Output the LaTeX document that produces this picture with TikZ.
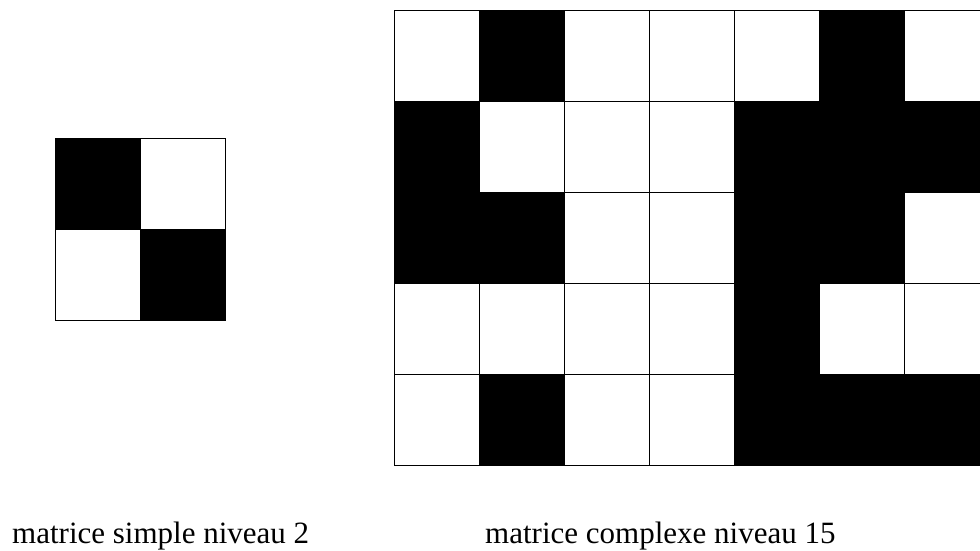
\documentclass[tikz,border=0pt]{standalone}
\usepackage{fontspec}
\setmainfont{Liberation Serif}
\usepackage{tikz}
\usetikzlibrary{positioning}
\tikzstyle{cell}    = [draw=black, line width=1pt]
\tikzstyle{caption} = [anchor=base west, inner sep=0pt, font=\fontsize{31}{37}\selectfont]

\begin{document}
\begin{tikzpicture}[x=1pt, y=-1pt]

    \useasboundingbox (0,0) rectangle (980,550);
    \clip (0,0) rectangle (980,550);

    % ===============================
    % 1. SIMPLE MATRIX (2 x 2)
    % ===============================
    \foreach \row [count=\r from 0] in {{1,0},{0,1}} {
        \foreach \v [count=\c from 0] in \row {
            \ifnum\v=1 \def\shade{black}\else \def\shade{white}\fi
            \filldraw[cell, fill=\shade] (55+85*\c, 138+91*\r) rectangle ++(85,91);
        }
    }

    % ===============================
    % 2. COMPLEX MATRIX (5 x 7)
    % ===============================
    \foreach \row [count=\r from 0] in {
        {0,1,0,0,0,1,0},
        {1,0,0,0,1,1,1},
        {1,1,0,0,1,1,0},
        {0,0,0,0,1,0,0},
        {0,1,0,0,1,1,1}} {
        \foreach \v [count=\c from 0] in \row {
            \ifnum\v=1 \def\shade{black}\else \def\shade{white}\fi
            \filldraw[cell, fill=\shade] (394+85*\c, 10+91*\r) rectangle ++(85,91);
        }
    }

    % ===============================
    % 3. CAPTIONS
    % ===============================
    \node[caption] (simplelabel)  at (12,543)  {matrice simple niveau 2};
    \node[caption] (complexlabel) at (485,543) {matrice complexe niveau 15};

\end{tikzpicture}
\end{document}
